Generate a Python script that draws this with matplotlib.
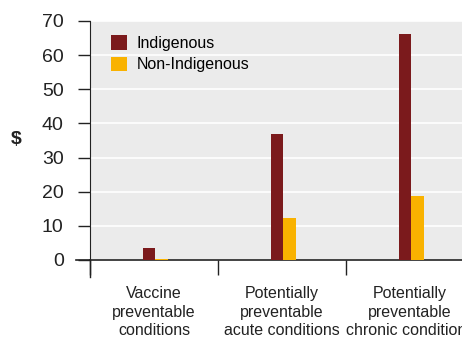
import matplotlib
matplotlib.use("Agg")
import matplotlib.pyplot as plt
import numpy as np

categories = ["Vaccine\npreventable\nconditions",
              "Potentially\npreventable\nacute conditions",
              "Potentially\npreventable\nchronic conditions"]
indigenous = [3.5, 36.9, 66.2]
non_indigenous = [0.3, 12.3, 18.7]
yticks = [0, 10, 20, 30, 40, 50, 60, 70]

plt.rcParams['font.family'] = ['Liberation Sans', 'DejaVu Sans']

fig = plt.figure(figsize=(4.62, 3.37), dpi=100)
ax = fig.add_axes([0.195, 0.2285, 0.805, 0.7092])
ax.set_facecolor('#ebebeb')

x = np.arange(len(categories))
w = 0.1
ax.bar(x - w / 2 + 0.01, indigenous, w, color='#7b1a1c', label='Indigenous', zorder=3)
ax.bar(x + w / 2 + 0.01, non_indigenous, w, color='#f9b200', label='Non-Indigenous', zorder=3)

ax.set_xlim(-0.5, 2.406)
ax.set_ylim(0, 70)
ax.set_yticks(yticks)
ax.yaxis.grid(True, color='white', linewidth=1.2, zorder=1)
ax.tick_params(axis='y', labelsize=14, length=9, width=1, pad=10, colors='#222222')

# category labels sit between the boundary ticks
ax.set_xticks([-0.5, 0.5, 1.5])
ax.set_xticklabels([])
ax.tick_params(axis='x', length=11, width=1, color='#222222')
for xi, lab in zip(x, categories):
    ax.text(xi, -0.11, lab, transform=ax.get_xaxis_transform(), ha='center', va='top',
            fontsize=11.5, color='#222222', linespacing=1.3)

for s in ['top', 'right']:
    ax.spines[s].set_visible(False)
ax.spines['left'].set_color('#222222')
ax.spines['bottom'].set_color('#222222')
ax.spines['bottom'].set_linewidth(1.2)

# extended axis lines past the origin
ax.plot([0, 0], [0, -0.07], transform=ax.transAxes, color='#222222', lw=1, clip_on=False)
ax.plot([0, -0.038], [0, 0], transform=ax.transAxes, color='#222222', lw=1.2, clip_on=False)

fig.text(16 / 462, 1 - 140 / 337, '$', fontsize=14, fontweight='bold', ha='center', va='center',
         color='#222222')

ax.legend(loc='upper left', bbox_to_anchor=(0.057, 0.94), frameon=False, fontsize=11.5,
          borderpad=0, borderaxespad=0,
          handlelength=1.0, handleheight=1.0, handletextpad=0.6, labelspacing=0.35)

fig.savefig('out.png', dpi=100)
